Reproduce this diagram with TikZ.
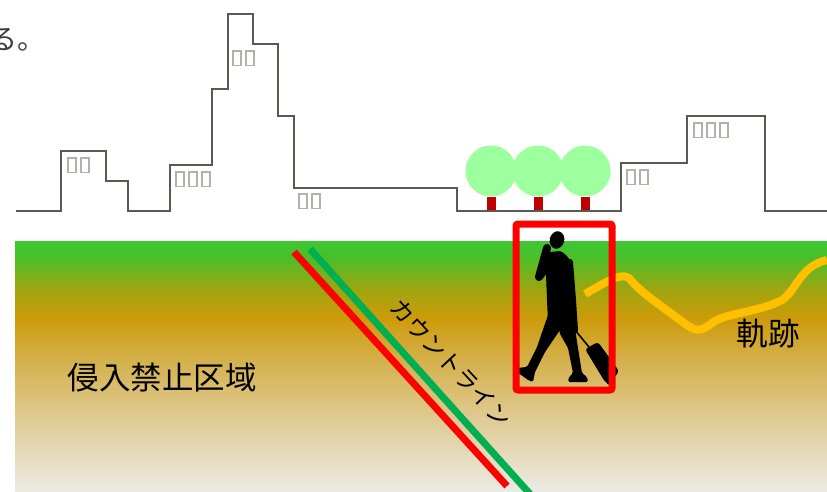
\documentclass[tikz,border=0pt]{standalone}
\usepackage{fontspec}
\newfontfamily\jpfont{Noto Sans CJK JP}
\definecolor{skyline}{RGB}{90,90,85}
\definecolor{tofu}{RGB}{178,178,170}
\definecolor{leaf}{RGB}{158,255,158}
\definecolor{trunk}{RGB}{192,0,0}
\definecolor{lineRed}{RGB}{255,0,0}
\definecolor{lineGreen}{RGB}{0,176,80}
\definecolor{trail}{RGB}{255,192,0}
\definecolor{gtop}{RGB}{60,200,50}
\definecolor{gA}{RGB}{75,190,40}
\definecolor{gB}{RGB}{160,165,15}
\definecolor{gC}{RGB}{205,155,10}
\definecolor{gD}{RGB}{213,178,80}
\definecolor{gE}{RGB}{222,200,140}
\definecolor{gF}{RGB}{231,222,198}
\definecolor{gbot}{RGB}{236,234,229}
\pgfdeclareverticalshading{groundshade}{100bp}{color(0bp)=(gbot); color(25bp)=(gbot); color(30.8bp)=(gF); color(40.7bp)=(gE); color(50.7bp)=(gD); color(59.7bp)=(gC); color(65.2bp)=(gB); color(71.6bp)=(gA); color(75bp)=(gtop); color(100bp)=(gtop)}
% an empty glyph box, as a font draws for a character it lacks
\newcommand{\gbox}{\tikz[baseline=0pt]\draw[tofu, line width=1.6pt] (0.8pt,0.8pt) rectangle (8.7pt,15.2pt);\hspace{3.6pt}}
\tikzset{
  bldg/.style={draw=skyline, line width=2pt, line join=miter},
  tofulbl/.style={inner sep=0pt},
  crown/.style={fill=leaf},
  stem/.style={fill=trunk},
  jplbl/.style={font=\jpfont\fontsize{31.5}{31.5}\selectfont, inner sep=0pt},
  body/.style={fill=black, rounded corners=1.5pt},
}
\begin{document}
\begin{tikzpicture}[x=1pt,y=-1pt]
\useasboundingbox (0,0) rectangle (827,492);
\begin{scope}
\clip (0,0) rectangle (827,492);
\fill[white] (0,0) rectangle (827,492);

% sentence tail at the top left
\node[font=\jpfont\fontsize{28}{28}\selectfont, text={rgb,255:red,60;green,60;blue,60}, anchor=base west, inner sep=0pt] (tail) at (-11,50) {る。};

% skyline
\draw[bldg] (16,211) -- (61,211) -- (61,151) -- (106,151) -- (106,181) -- (128,181) -- (128,211)
  -- (170,211) -- (170,165) -- (212,165) -- (212,89) -- (228,89) -- (228,14) -- (253,14)
  -- (253,44) -- (278,44) -- (278,116) -- (294,116) -- (294,188) -- (457,188) -- (457,211)
  -- (621,211) -- (621,163) -- (687,163) -- (687,116) -- (765,116) -- (765,211) -- (827,211);

\node[tofulbl, anchor=north west] (b1) at (67,157) {\gbox\gbox};
\node[tofulbl, anchor=north west] (b2) at (175,171) {\gbox\gbox\gbox};
\node[tofulbl, anchor=north west] (b3) at (232,50) {\gbox\gbox};
\node[tofulbl, anchor=north west] (b4) at (298,193) {\gbox\gbox};
\node[tofulbl, anchor=north west] (b5) at (626,169) {\gbox\gbox};
\node[tofulbl, anchor=north west] (b6) at (693,122) {\gbox\gbox\gbox};

% trees
\fill[stem] (487,197) rectangle (496,210);
\fill[stem] (534,197) rectangle (543,210);
\fill[stem] (581,197) rectangle (590,210);
\fill[crown] (491,171) circle (25.5);
\fill[crown] (538,171) circle (25.5);
\fill[crown] (585,171) circle (25.5);

% ground
\shade[shading=groundshade] (15,241) rectangle (827,492);

% counting line
\draw[lineRed, line width=7pt] (294,252) -- (507,486);
\draw[lineGreen, line width=7pt] (310,249) -- (530,494);
\node[font=\jpfont\fontsize{23.5}{23.5}\selectfont, rotate=-47, inner sep=0pt] (countlbl) at (451,363) {カウントライン};

% zone label
\node[jplbl] (zone) at (162,378) {侵入禁止区域};

% trajectory
\draw[trail, line width=8pt, line join=round] (585,294) .. controls (605,283) and (620,272) .. (629,278)
  .. controls (640,292) and (660,305) .. (684,323) .. controls (695,331) and (700,333) .. (712,323)
  .. controls (725,313) and (760,312) .. (782,300) .. controls (797,290) and (800,266) .. (827,260);
\node[jplbl] (trace) at (768,334) {軌跡};

% walking person with a suitcase
\fill[black, rotate around={-15:(557,240)}] (557,240) ellipse (7.3 and 8.8);
\fill[body] (549,252) -- (561,251) -- (567,256) -- (572,263) -- (573,285) -- (575,316) -- (573,322)
  -- (548,322) -- (547,300) -- (546,275) -- (548,258) -- cycle;
\draw[black, line width=8pt, line cap=round, line join=round] (550,262) -- (539,277) -- (547,248);
\draw[black, line width=6pt, line cap=round, line join=round] (570,262) -- (573,300) -- (575,330);
% rear leg
\fill[body] (548,315) -- (561,318) -- (560,330) -- (545,352) -- (535,372) -- (533,382) -- (528,380)
  -- (517,372) -- (516,368) -- (527,367) -- (537,347) -- cycle;
% front leg
\fill[body] (556,316) -- (573,316) -- (578,348) -- (582,373) -- (587,377) -- (588,382) -- (568,382)
  -- (569,377) -- (573,373) -- (568,348) -- (560,334) -- cycle;
% suitcase
\draw[black, line width=1.6pt] (575,330) -- (589,347);
\fill[black, rounded corners=3pt] (585,349) -- (598,342) -- (619,371) -- (610,384) -- (605,382) -- cycle;
\fill[black] (609,382) circle (2.6);

% detection box
\draw[lineRed, line width=7pt, rounded corners=2pt] (516,224) rectangle (612,390);
\end{scope}
\end{tikzpicture}
\end{document}
